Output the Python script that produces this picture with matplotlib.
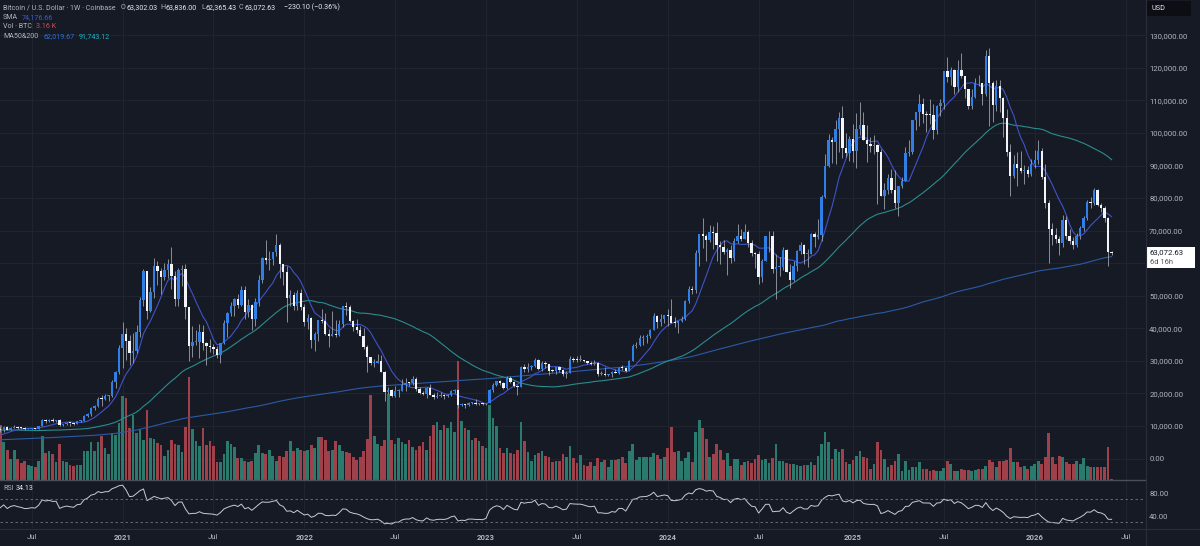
import numpy as np
import pandas as pd
import matplotlib
matplotlib.use("Agg")
import matplotlib.pyplot as plt
import matplotlib.transforms as mtransforms
from matplotlib.lines import Line2D
from matplotlib.patches import Rectangle

# ==========================================
# DATA (weekly BTC/USD, thousands of USD)
# ==========================================
START = "2020-05-04"

# weekly closes before the visible range (Jul 2016 - Apr 2020), only used for SMA/RSI warm-up
pre_close = [
    0.65, 0.67, 0.66, 0.63, 0.59, 0.57, 0.58, 0.58, 0.61, 0.61, 0.61, 0.60, 0.61, 0.62, 0.64, 0.65,
    0.70, 0.71, 0.71, 0.75, 0.74, 0.77, 0.78, 0.79, 0.90, 1.00,
    0.91, 0.82, 0.92, 0.92, 1.01, 1.00, 1.05, 1.18, 1.26, 1.23, 1.07, 0.93, 1.08, 1.18, 1.18, 1.24,
    1.35, 1.56, 1.72, 2.04, 2.05, 2.52, 2.95, 2.50, 2.58, 2.50, 2.51, 1.93, 2.75, 2.87, 3.25, 4.06,
    4.09, 4.35, 4.58, 4.22, 3.70, 3.60, 4.36, 4.60, 5.68, 6.01, 6.15, 7.37, 5.95, 7.70, 9.30, 11.30,
    15.30, 19.10, 14.00, 12.60,
    13.80, 13.60, 11.60, 11.80, 8.20, 8.10, 10.40, 9.60, 11.50, 9.60, 8.20, 8.50, 6.90, 7.00, 8.00,
    8.90, 9.40, 8.65, 8.50, 8.20, 7.30, 7.70, 6.80, 6.40, 6.15, 6.40, 6.75, 6.35, 7.40, 8.20, 7.00,
    6.30, 6.40, 6.70, 7.30, 6.25, 6.50, 6.70, 6.60, 6.60, 6.30, 6.40, 6.35, 6.40, 6.35, 5.60, 3.80,
    4.10, 3.30, 3.20, 3.95, 3.85, 3.65,
    3.55, 3.55, 3.55, 3.42, 3.65, 3.66, 3.82, 3.86, 3.92, 3.99, 4.00, 4.10, 5.05, 5.08, 5.30, 5.30,
    5.70, 7.00, 8.10, 8.70, 8.55, 8.00, 8.95, 10.70, 10.80, 11.30, 10.20, 10.80, 9.50, 10.80, 10.30,
    10.20, 10.10, 10.40, 10.35, 10.30, 10.00, 8.00, 8.30, 8.30, 8.20, 9.50, 9.20, 8.80, 8.50, 7.10,
    7.40, 7.50, 7.10, 7.15, 7.40, 7.75,
    8.90, 8.65, 8.60, 9.37, 10.15, 9.90, 9.65, 8.55, 8.00, 5.35, 5.85, 5.88, 6.90, 7.10, 7.25, 7.65, 8.90,
]

close_k = [
    # 2020
    8.72, 9.68, 8.72, 9.45, 9.75, 9.47, 9.30, 9.00, 9.07, 9.25, 9.16, 9.93, 11.80, 11.58, 11.85,
    11.65, 11.70, 10.25, 10.68, 10.93, 10.78, 10.67, 11.38, 11.50, 13.03, 13.80, 15.48, 16.05, 18.42,
    18.19, 19.15, 19.26, 23.48, 26.45, 34.00,
    # 2021
    38.20, 36.00, 32.30, 33.10, 38.90, 48.60, 57.50, 45.20, 51.00, 59.00, 57.50, 55.80, 58.00, 59.80,
    56.20, 49.10, 57.80, 58.30, 46.40, 34.70, 35.70, 35.80, 39.00, 35.50, 34.70, 34.20, 33.50, 31.80,
    35.40, 41.50, 44.60, 47.00, 49.00, 47.10, 51.80, 45.00, 47.30, 42.80, 48.20, 54.90, 61.50, 60.90,
    61.30, 63.30, 65.50, 59.70, 57.20, 49.40, 50.10, 46.70, 50.80, 46.40,
    # 2022
    41.80, 43.10, 36.30, 38.10, 42.40, 42.20, 38.30, 37.70, 38.40, 37.80, 41.30, 46.80, 46.40, 42.20,
    40.40, 39.50, 37.60, 34.30, 31.30, 29.40, 29.40, 29.90, 26.60, 20.50, 21.00, 19.30, 20.80, 20.80,
    22.60, 23.30, 23.20, 24.30, 21.50, 20.00, 19.80, 21.80, 19.40, 18.80, 19.30, 19.40, 19.20, 19.60,
    20.60, 21.00, 16.30, 16.70, 16.40, 17.10, 17.10, 16.80, 16.80, 16.60,
    # 2023
    17.10, 20.90, 22.70, 23.70, 23.30, 21.80, 24.60, 23.50, 22.40, 22.10, 28.00, 27.50, 28.20, 28.30,
    30.30, 27.60, 29.20, 28.90, 26.90, 26.75, 28.00, 27.10, 25.90, 26.30, 30.50, 30.30, 30.20, 30.20,
    29.80, 29.30, 29.00, 29.40, 26.10, 26.10, 25.80, 25.85, 26.55, 26.30, 27.95, 27.90, 26.85, 29.90,
    34.50, 35.00, 37.10, 37.40, 37.70, 39.50, 43.80, 41.90, 43.00, 44.20,
    # 2024
    43.90, 41.70, 41.60, 42.10, 43.00, 48.30, 52.10, 51.70, 63.10, 68.90, 68.40, 67.20, 69.60, 69.30,
    65.70, 64.90, 63.40, 64.00, 61.50, 66.90, 68.50, 67.50, 69.60, 66.20, 63.20, 62.70, 55.80, 60.80,
    68.20, 68.20, 58.10, 58.70, 58.90, 64.20, 57.30, 54.80, 59.10, 63.60, 65.60, 62.80, 62.90, 69.00,
    67.90, 68.70, 80.40, 89.80, 97.90, 97.20, 101.10, 104.50, 95.30, 93.70, 98.30,
    # 2025
    94.50, 101.30, 102.60, 97.70, 96.50, 96.10, 96.30, 94.30, 80.70, 82.60, 86.10, 82.40, 78.40, 83.70,
    85.10, 93.70, 94.30, 104.10, 106.50, 109.00, 105.70, 105.60, 105.50, 100.90, 108.40, 109.20,
    119.10, 117.30, 119.40, 114.20, 119.30, 117.40, 113.50, 108.20, 111.10, 115.30, 115.20, 112.10,
    123.50, 115.20, 108.70, 114.50, 110.60, 104.70, 94.20, 86.80, 90.40, 89.30, 88.20, 88.60, 87.50,
    90.60,
    # 2026
    91.70, 94.50, 86.50, 78.60, 70.50, 68.80, 67.50, 66.20, 73.30, 68.50, 66.80, 65.60, 68.40, 70.70,
    73.80, 78.80, 78.50, 82.50, 78.00, 76.80, 73.80, 63.30, 63.07,
]

high_k = [
    10.07, 9.95, 9.85, 9.60, 10.43, 9.99, 9.58, 9.80, 9.38, 9.47, 9.33, 9.98, 12.10, 12.00, 12.08,
    12.48, 11.80, 12.08, 10.70, 11.10, 10.95, 10.95, 11.49, 11.72, 13.35, 14.09, 15.97, 16.49, 18.90,
    19.42, 19.92, 19.40, 24.20, 26.90, 34.80,
    41.95, 40.10, 37.85, 38.50, 40.95, 49.70, 58.35, 57.50, 52.60, 61.70, 60.60, 58.50, 60.00, 61.20,
    64.85, 57.50, 58.50, 59.50, 59.60, 46.60, 40.80, 39.50, 41.30, 41.00, 35.70, 36.60, 35.10, 34.60,
    35.40, 42.60, 45.00, 48.10, 49.40, 50.50, 52.90, 52.90, 48.90, 47.40, 49.20, 56.50, 62.00, 67.00,
    63.70, 63.50, 69.00, 66.30, 59.80, 59.20, 51.90, 51.00, 51.80, 52.10,
    47.50, 44.50, 43.50, 38.90, 42.60, 45.80, 44.70, 39.80, 45.40, 42.50, 42.40, 46.90, 48.20, 47.20,
    42.40, 42.90, 40.80, 40.00, 34.80, 31.30, 30.60, 32.20, 31.70, 26.80, 21.90, 21.50, 22.40, 21.50,
    24.30, 24.60, 23.60, 25.20, 25.00, 21.90, 20.60, 21.90, 22.80, 20.00, 20.30, 20.50, 19.90, 19.70,
    21.00, 21.50, 21.50, 17.20, 16.80, 17.40, 17.40, 18.40, 17.10, 16.90,
    17.20, 21.30, 23.10, 23.90, 24.20, 23.40, 25.20, 25.30, 23.90, 22.60, 28.40, 28.90, 29.20, 28.80,
    31.00, 30.50, 30.00, 29.80, 28.90, 27.50, 28.00, 28.40, 27.40, 26.80, 31.40, 31.30, 31.40, 31.80,
    30.40, 29.90, 29.90, 30.20, 29.70, 26.80, 28.20, 26.10, 26.90, 27.50, 28.00, 28.60, 28.00, 30.40,
    35.20, 35.90, 37.90, 38.00, 38.40, 39.90, 44.70, 44.00, 44.40, 43.80,
    45.90, 49.10, 43.60, 42.20, 43.90, 48.60, 53.00, 52.90, 64.00, 69.00, 73.80, 68.90, 71.70, 71.30,
    72.80, 66.90, 67.20, 64.70, 65.50, 67.70, 72.00, 70.60, 71.90, 70.20, 67.00, 63.30, 63.80, 61.40,
    68.40, 70.00, 70.00, 62.70, 61.80, 65.00, 64.40, 59.80, 60.70, 64.10, 66.50, 66.00, 64.50, 69.40,
    69.50, 73.60, 81.00, 93.50, 99.60, 98.70, 104.00, 106.50, 108.30, 99.90, 99.00,
    102.70, 106.00, 109.40, 106.50, 102.50, 98.80, 99.50, 96.50, 95.00, 84.70, 87.40, 88.80, 88.50,
    83.60, 86.40, 95.80, 97.80, 104.10, 105.80, 112.00, 110.60, 106.80, 110.40, 108.90, 108.50,
    110.50, 119.00, 123.20, 120.20, 119.80, 122.30, 124.50, 117.60, 113.60, 113.40, 116.80, 117.90,
    115.40, 125.60, 126.20, 116.00, 116.40, 116.40, 111.20, 107.50, 96.60, 93.10, 94.10, 94.60,
    90.30, 90.00, 91.90,
    94.80, 97.90, 95.50, 90.50, 79.50, 72.30, 70.80, 68.50, 74.80, 74.50, 70.50, 68.00, 69.20, 71.50,
    74.50, 79.50, 80.20, 83.20, 82.80, 78.50, 77.50, 74.30, 63.84,
]

low_k = [
    8.10, 8.20, 8.70, 8.63, 9.27, 9.20, 9.00, 8.83, 8.95, 9.05, 9.03, 9.10, 9.90, 10.90, 11.10,
    11.28, 11.12, 9.88, 9.85, 10.20, 10.13, 10.40, 10.53, 11.20, 11.42, 12.90, 13.20, 14.83, 15.79,
    16.20, 18.00, 17.60, 19.00, 21.80, 26.00,
    27.70, 30.30, 28.80, 29.20, 32.30, 37.40, 47.00, 43.00, 44.90, 49.30, 53.30, 50.40, 54.90, 55.50,
    52.00, 47.00, 47.00, 52.90, 42.90, 30.00, 31.20, 34.80, 31.00, 33.30, 28.80, 32.70, 32.10, 31.00,
    29.30, 35.20, 37.30, 43.70, 43.90, 46.30, 46.80, 43.00, 43.40, 39.60, 40.80, 46.80, 53.90, 59.80,
    58.00, 59.50, 62.30, 55.60, 53.30, 42.00, 46.80, 45.50, 45.60, 45.70,
    40.60, 39.70, 34.00, 32.90, 36.20, 41.70, 38.00, 34.30, 37.50, 37.20, 37.60, 40.50, 44.20, 41.90,
    39.20, 38.50, 37.60, 33.70, 26.70, 28.70, 28.00, 29.30, 26.60, 17.60, 19.70, 18.80, 19.00, 18.90,
    20.70, 20.70, 22.40, 22.70, 20.80, 19.80, 19.50, 18.50, 19.40, 18.20, 18.50, 19.00, 18.20, 18.90,
    19.20, 20.00, 15.60, 16.10, 15.50, 16.00, 16.70, 16.50, 16.40, 16.30,
    16.50, 17.10, 20.40, 22.30, 22.50, 21.40, 21.40, 23.10, 21.90, 19.60, 21.90, 26.60, 26.50, 27.20,
    28.20, 27.10, 26.90, 27.70, 25.80, 26.50, 25.90, 26.60, 25.30, 24.80, 26.20, 29.50, 29.70, 29.90,
    29.50, 28.90, 28.60, 28.70, 25.20, 25.80, 25.30, 25.30, 24.90, 26.20, 26.00, 27.20, 26.50, 26.90,
    29.80, 33.90, 34.50, 34.80, 35.60, 37.10, 39.50, 40.20, 40.60, 41.50,
    40.80, 41.50, 40.30, 38.50, 41.80, 42.50, 47.70, 50.50, 50.90, 59.00, 64.60, 60.80, 66.40, 64.50,
    60.70, 59.60, 62.70, 56.50, 60.20, 60.80, 66.30, 66.70, 67.50, 65.10, 62.30, 58.40, 53.50, 54.30,
    60.60, 63.50, 57.10, 49.00, 56.10, 57.80, 57.20, 52.50, 54.60, 57.50, 62.70, 59.80, 58.90, 62.80,
    65.10, 67.50, 66.80, 80.00, 89.40, 90.80, 90.50, 94.20, 92.20, 92.50, 91.30,
    91.20, 89.30, 99.50, 97.70, 91.20, 94.10, 93.40, 78.20, 81.50, 76.60, 81.30, 81.60, 77.00, 74.50,
    83.00, 85.10, 92.90, 93.40, 100.80, 102.00, 103.10, 100.40, 102.70, 98.20, 99.60, 105.10, 107.50,
    115.70, 114.70, 112.00, 112.70, 116.80, 110.60, 107.30, 107.30, 110.60, 114.40, 108.60, 111.40,
    102.00, 103.50, 106.60, 106.30, 98.90, 93.00, 80.60, 86.10, 83.80, 87.60, 84.40, 86.60, 86.80,
    89.30, 90.50, 86.00, 77.00, 60.10, 65.50, 66.30, 62.50, 65.00, 67.50, 66.00, 64.50, 65.00, 67.50,
    70.00, 73.20, 77.00, 77.80, 77.50, 75.80, 72.50, 59.20, 62.37,
]

# weekly volume (relative units)
volume = [
    55, 38, 30, 21, 30, 21, 17, 19, 15, 14, 13, 19, 44, 27, 29, 26, 18, 36, 19, 18,
    15, 14, 15, 15, 29, 29, 38, 29, 38, 44, 32, 26, 47, 45, 57, 84, 82, 52, 65, 47,
    51, 40, 70, 42, 41, 37, 35, 24, 30, 40, 36, 35, 28, 53, 103, 51, 39, 34, 52, 35,
    39, 34, 18, 18, 26, 39, 36, 33, 22, 22, 19, 18, 19, 27, 35, 27, 26, 30, 24, 19,
    24, 23, 29, 39, 29, 32, 30, 29, 30, 35, 32, 43, 43, 40, 29, 30, 39, 35, 29, 28,
    27, 23, 20, 23, 29, 41, 85, 44, 36, 34, 40, 86, 40, 36, 42, 38, 36, 40, 33, 30,
    34, 38, 30, 44, 55, 58, 50, 55, 52, 58, 48, 119, 59, 52, 50, 40, 42, 39, 34, 32,
    75, 62, 54, 32, 27, 32, 27, 26, 30,
    58, 39, 28, 19, 25, 27, 29, 24, 23, 18, 19, 19, 26, 23, 34, 22, 17, 25, 15, 14,
    18, 14, 22, 18, 20, 13, 20, 20, 21, 23, 17, 29, 36, 20, 23, 23, 23, 23, 27, 25,
    21, 23, 32, 53, 28, 29, 19, 22, 28, 18, 48, 60, 52, 41, 23, 26, 36, 30, 20, 27,
    14, 21, 21, 15, 18, 19, 17, 21, 25, 20, 21, 17, 22, 36, 19, 19, 17, 16, 16, 15,
    14, 15, 15, 18, 15, 24, 36, 48, 38, 21, 31, 28, 31, 18, 16, 20, 24, 29, 23, 22,
    11, 16, 38, 30, 21, 13, 15, 19, 26, 9, 19, 10, 13, 13, 18, 11, 11, 9, 10, 9,
    9, 12, 19, 16, 9, 9, 11,
    10, 10, 9, 10, 11, 11, 14, 20, 18, 13, 19, 19, 20, 32, 18, 18, 13, 14, 11, 14,
    16, 19, 16, 23, 47, 23, 16, 24, 23, 18, 16, 16, 19, 16, 22, 14, 13, 13, 13, 13,
    13, 33, 1,
]

price_ticks = [0, 10, 20, 30, 40, 50, 60, 70, 80, 90, 100, 110, 120, 130]
hidden_tick = 60          # covered by the last-price badge
rsi_ticks = [40, 80]

# ==========================================
# INDICATORS
# ==========================================
n_pre = len(pre_close)
close = np.array(close_k)
full = pd.Series(np.r_[pre_close, close_k])
opens = full.values[n_pre - 1:-1]
high = np.maximum(np.array(high_k), np.maximum(opens, close))
low = np.minimum(np.array(low_k), np.minimum(opens, close))
vol = np.array(volume, dtype=float)
n = len(close)
xs = np.arange(n)

sma9 = full.rolling(9).mean().values[n_pre:]
ma50 = full.rolling(50).mean().values[n_pre:]
ma200 = full.rolling(200).mean().values[n_pre:]
diff = full.diff()
avg_up = diff.clip(lower=0).ewm(alpha=1 / 14, adjust=False).mean()
avg_dn = (-diff.clip(upper=0)).ewm(alpha=1 / 14, adjust=False).mean()
rsi = (100 - 100 / (1 + avg_up / avg_dn)).values[n_pre:]

# tick positions: first weekly bar of January / July
ext = pd.date_range(START, periods=n + 12, freq="W-MON")
tick_pos, tick_lab = [], []
for k in range(1, len(ext)):
    if ext[k].month != ext[k - 1].month and ext[k].month in (1, 7):
        tick_pos.append(k)
        tick_lab.append(str(ext[k].year) if ext[k].month == 1 else "Jul")

# ==========================================
# STYLE
# ==========================================
BG = "#161a25"
GRID = "#21252f"
TXT = "#b2b5be"
WHITE = "#e8eaef"
UP = "#2f7fe6"
DOWN = "#f2f4f8"
WICK = "#a9adb6"
VUP = "#2a7b6e"
VDN = "#9e414a"
HS = 5.1
plt.rcParams["font.family"] = ["Roboto", "DejaVu Sans"]

W, H = 1200, 546
fig = plt.figure(figsize=(12, 5.46), dpi=100, facecolor=BG)


def rect(x0, y0, x1, y1):
    return [x0 / W, 1 - y1 / H, (x1 - x0) / W, (y1 - y0) / H]


def ftxt(x, y, s, color, size=HS, **kw):
    return fig.text(x / W, 1 - y / H, s, color=color, fontsize=size, va="center", ha="left", **kw)


ax_vol = fig.add_axes(rect(0, 0, 1145, 479.5))
ax = fig.add_axes(rect(0, 0, 1145, 479.5), sharex=ax_vol)
ax_rsi = fig.add_axes(rect(0, 480.5, 1145, 528), sharex=ax_vol)
ax_vol.set_facecolor(BG)
ax.patch.set_visible(False)
ax_rsi.set_facecolor(BG)
ax.set_zorder(2)
ax_vol.set_zorder(1)

x_left = -0.2 / 3.495
x_right = (1145 - 0.2) / 3.495
ax.set_xlim(x_left, x_right)
ax.set_ylim(-6.45, 140.85)
ax_vol.set_ylim(0, vol.max() / 0.248)
ax_rsi.set_ylim(18.9, 103.5)

# grid (drawn on the lowest axes so it stays under the volume)
for p in tick_pos:
    ax_vol.axvline(p, color=GRID, lw=0.7, zorder=0)
    ax_rsi.axvline(p, color=GRID, lw=0.7, zorder=0)
blend = mtransforms.blended_transform_factory(ax_vol.transAxes, ax.transData)
for t in price_ticks:
    ax_vol.plot([0, 1], [t, t], color=GRID, lw=0.7, transform=blend, zorder=0)

# volume
up_mask = close >= opens
ax_vol.bar(xs, vol, width=0.78, color=np.where(up_mask, VUP, VDN), linewidth=0, zorder=1)

# moving averages
ax.plot(xs, ma200, color="#2b5aa6", lw=0.8, zorder=2)
ax.plot(xs, ma50, color="#2a8c8c", lw=0.8, zorder=2)
ax.plot(xs, sma9, color="#4052c8", lw=0.8, zorder=2)

# candles
ax.vlines(xs, low, high, colors=WICK, lw=0.55, zorder=3)
body_lo = np.minimum(opens, close)
body_h = np.maximum(np.abs(close - opens), 0.3)
ax.bar(xs, body_h, bottom=body_lo, width=0.68,
       color=np.where(up_mask, UP, DOWN), linewidth=0, zorder=4)

# RSI
ax_rsi.plot(xs, rsi, color="#c9ccd3", lw=0.7)
for lvl in (70, 30):
    ax_rsi.axhline(lvl, color="#70737e", lw=0.6, dashes=(3, 3))

# axes cosmetics
for a in (ax, ax_vol, ax_rsi):
    for s in a.spines.values():
        s.set_visible(False)
ax_vol.set_yticks([])
ax_vol.tick_params(axis="x", length=0, labelbottom=False)
ax.tick_params(axis="x", length=0, labelbottom=False)
ax.yaxis.tick_right()
ax.set_yticks(price_ticks)
ax.set_yticklabels(["" if t == hidden_tick else f"{t * 1000:,.2f}" for t in price_ticks])
ax.tick_params(axis="y", length=0, pad=3, labelsize=5.6, labelcolor=TXT)
ax_rsi.yaxis.tick_right()
ax_rsi.set_yticks(rsi_ticks)
ax_rsi.set_yticklabels([f"{t:.2f}" for t in rsi_ticks])
ax_rsi.tick_params(axis="y", length=0, pad=3, labelsize=5.6, labelcolor=TXT)
ax_rsi.set_xticks(tick_pos)
ax_rsi.set_xticklabels(tick_lab)
ax_rsi.tick_params(axis="x", length=0, pad=4.5, labelsize=5.6, labelcolor=TXT)
for lab in ax_rsi.get_xticklabels():
    if lab.get_text() != "Jul":
        lab.set_fontweight("bold")

# pane separators
fig.add_artist(Line2D([0, 1145 / W], [1 - 480 / H] * 2, color="#4b4f5b", lw=1.0))
fig.add_artist(Line2D([0, 1], [1 - 528.5 / H] * 2, color="#2a2e39", lw=0.8))
fig.add_artist(Line2D([1145.5 / W] * 2, [0, 1], color="#2a2e39", lw=0.8))

# header legend
ftxt(3, 7.5, "Bitcoin / U.S. Dollar · 1W · Coinbase", TXT)
for letter, value, x0, gap in [("O", "63,302.03", 120.5, 5.6), ("H", "63,836.00", 160.0, 5.2),
                               ("L", "62,365.43", 201.0, 4.2), ("C", "63,072.63", 239.0, 5.2)]:
    ftxt(x0, 7.5, letter, TXT)
    ftxt(x0 + gap, 7.5, value, WHITE)
ftxt(284, 7.5, "\u2212230.10 (\u22120.36%)", WHITE)
ftxt(3, 17.3, "SMA", TXT)
ftxt(22, 17.3, "74,176.66", "#3a5bd0")
ftxt(3, 27, "Vol · BTC", TXT)
ftxt(36, 27, "3.16 K", "#c8505a")
ftxt(3, 36.3, "MA50&200", TXT)
ftxt(43.5, 36.3, "62,019.67", "#2f6fd6")
ftxt(79, 36.3, "91,743.12", "#1fb3c4")
ftxt(3, 489, "RSI", TXT)
ftxt(16, 489, "34.13", WHITE)

# USD badge and last price label
fig.add_artist(Rectangle((1147 / W, 1 - 16 / H), 44 / W, 15 / H, transform=fig.transFigure,
                         facecolor="#0c0e14", edgecolor="none"))
ftxt(1152, 8.5, "USD", WHITE, size=5.2)
fig.add_artist(Rectangle((1147 / W, 1 - 268 / H), 48 / W, 21 / H, transform=fig.transFigure,
                         facecolor="#ffffff", edgecolor="none"))
ftxt(1149.5, 252.5, "63,072.63", "#131722", size=5.6)
ftxt(1149.5, 262, "6d 16h", "#50535e", size=5.4)

fig.savefig("out.png", dpi=100, facecolor=BG)
